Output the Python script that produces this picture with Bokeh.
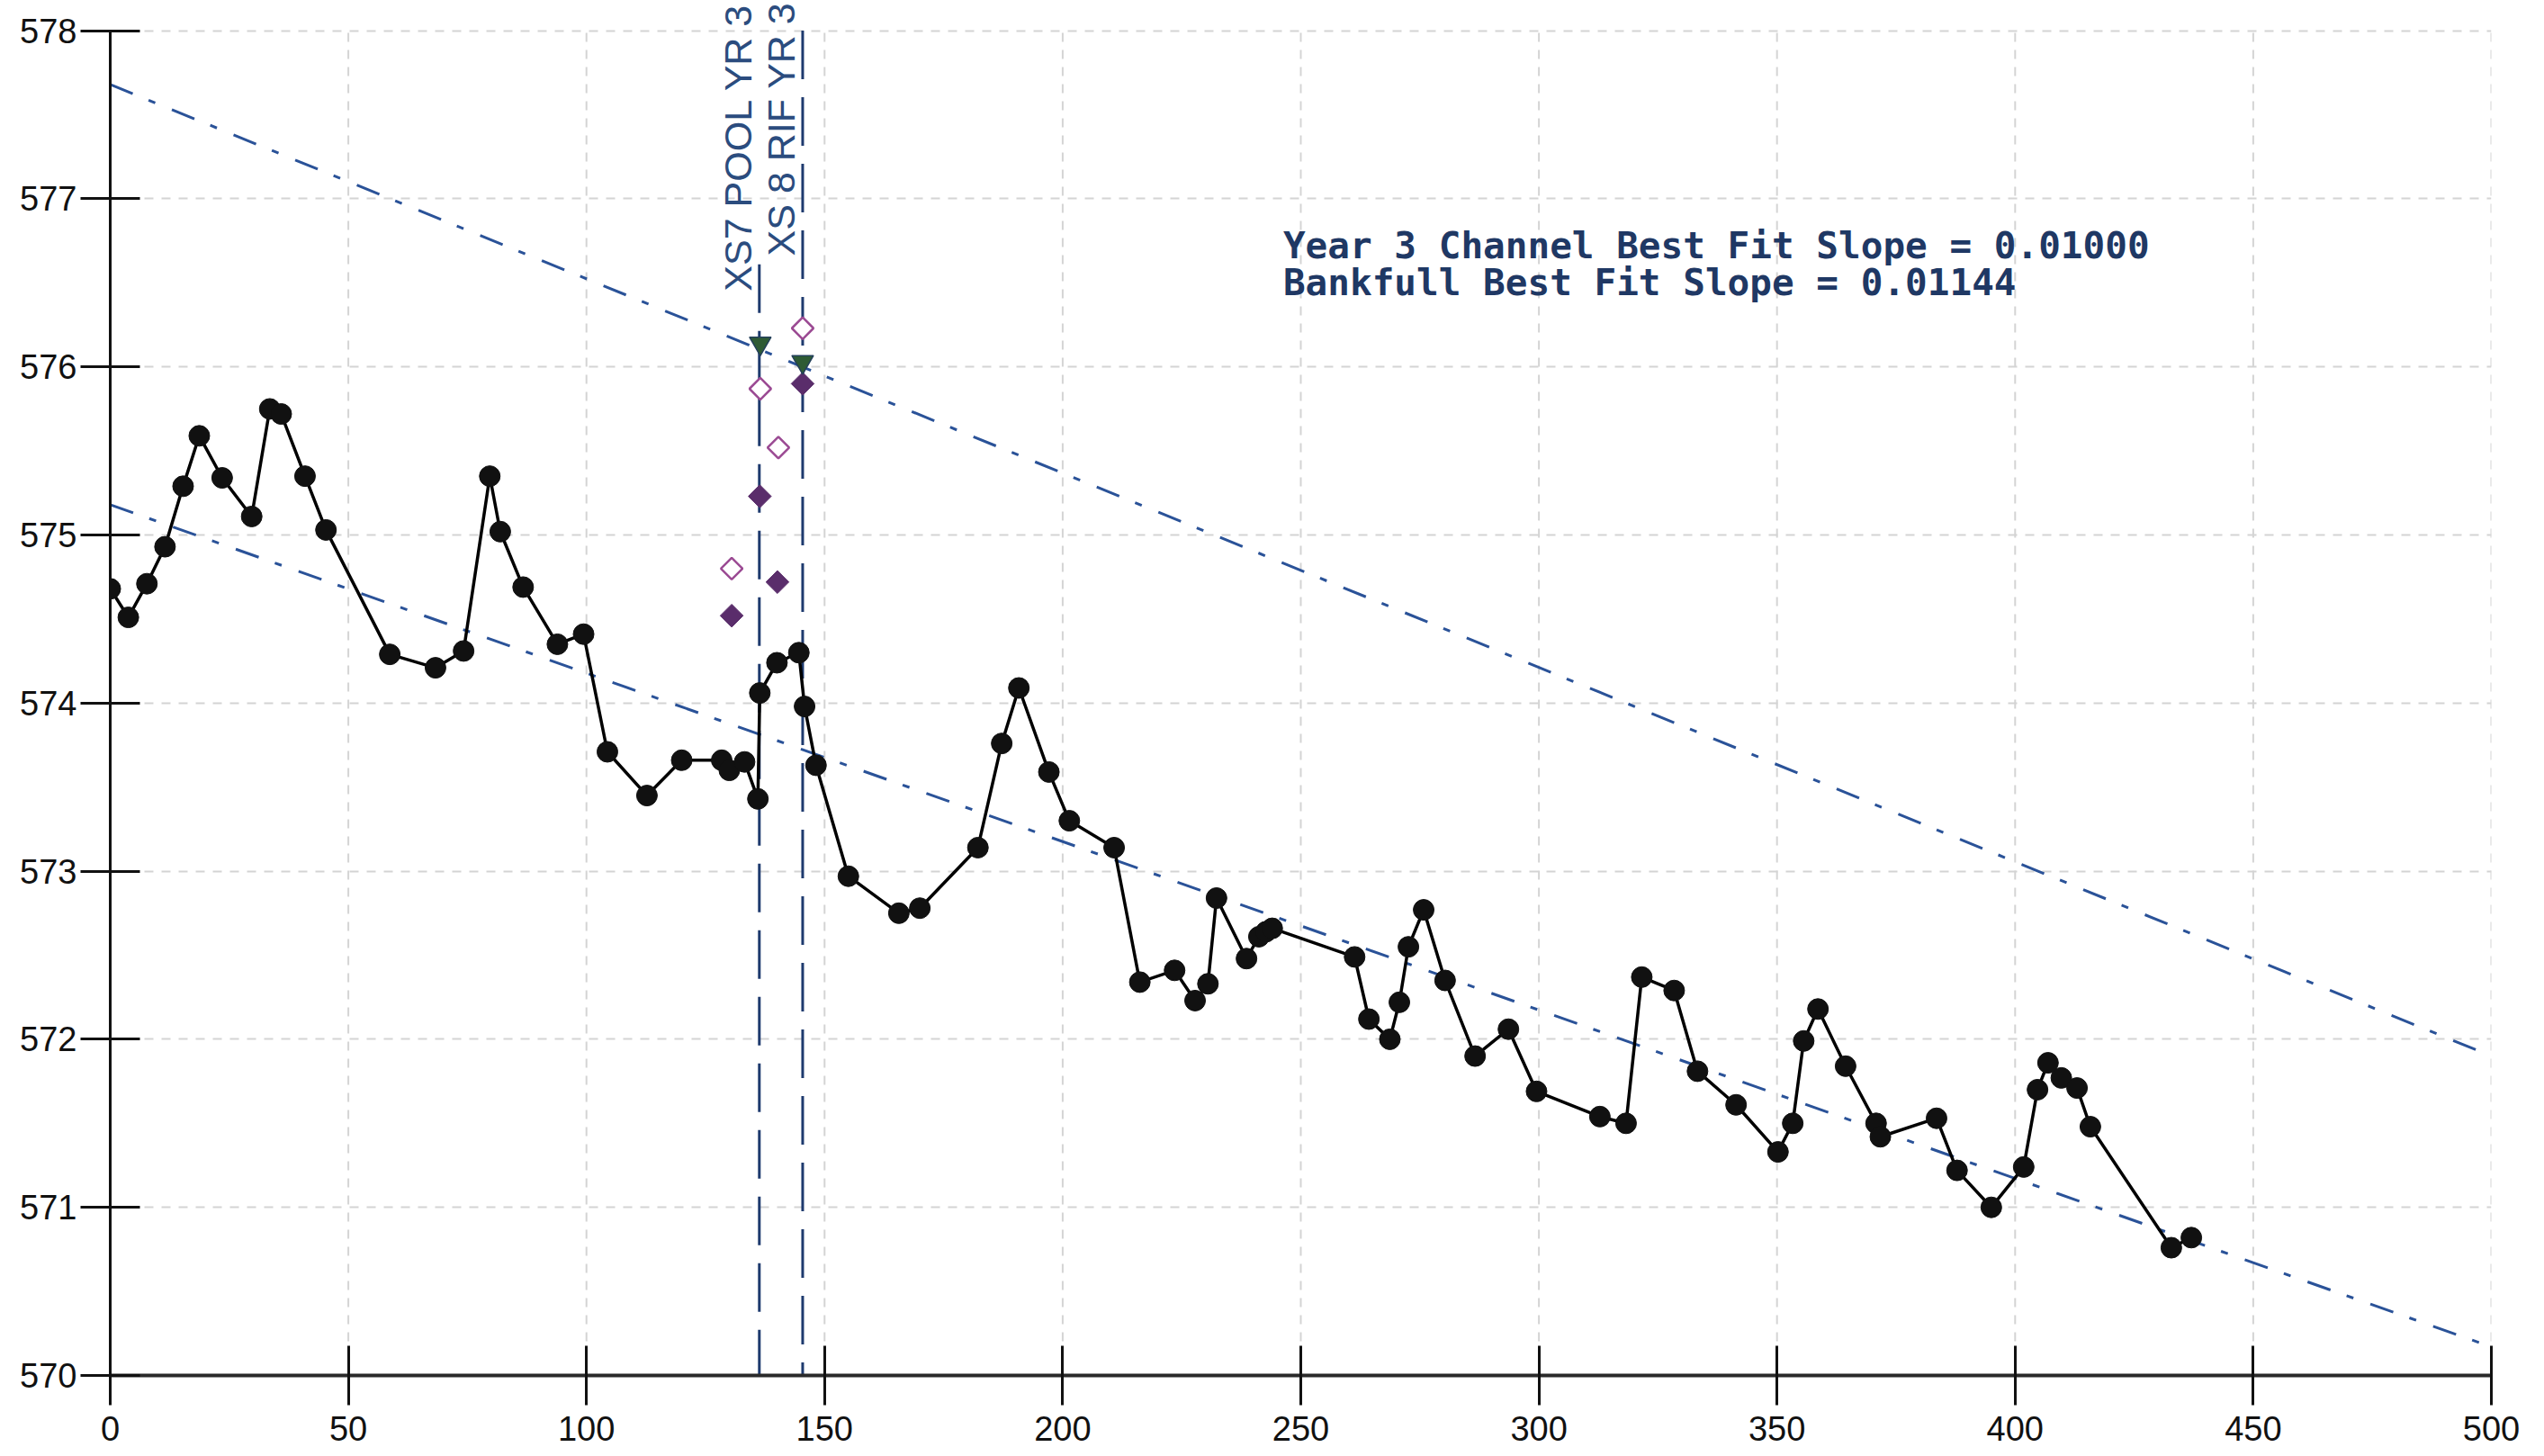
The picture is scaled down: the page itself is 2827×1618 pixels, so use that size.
from bokeh.plotting import figure
from bokeh.models import Range1d, FixedTicker, Label
from bokeh.embed import file_html
from bokeh.resources import INLINE
import math

# ---------------- data ----------------
station = [0, 3.8, 7.7, 11.5, 15.3, 18.7, 23.5, 29.7, 33.5, 35.9, 40.9, 45.3, 58.7, 68.3,
           74.2, 79.7, 81.9, 86.7, 93.9, 99.4, 104.4, 112.7, 120.0, 128.4, 130.0, 133.2,
           136.0, 136.4, 140.0, 144.6, 145.8, 148.2, 155.0, 165.6, 170.0, 182.2, 187.2,
           190.8, 197.1, 201.4, 210.8, 216.2, 223.5, 227.8, 230.5, 232.3, 238.6, 241.2,
           242.7, 244.0, 261.3, 264.3, 268.7, 270.7, 272.6, 275.8, 280.3, 286.6, 293.6,
           299.5, 312.8, 318.3, 321.6, 328.4, 333.3, 341.4, 350.2, 353.3, 355.6, 358.6,
           364.4, 370.8, 371.7, 383.5, 387.8, 395.0, 401.8, 404.7, 406.9, 409.7, 413.0,
           415.8, 432.8, 437.0]
elevation = [574.68, 574.51, 574.71, 574.93, 575.29, 575.59, 575.34, 575.11, 575.75, 575.72,
             575.35, 575.03, 574.29, 574.21, 574.31, 575.35, 575.02, 574.69, 574.35, 574.41,
             573.71, 573.45, 573.66, 573.66, 573.60, 573.65, 573.43, 574.06, 574.24, 574.30,
             573.98, 573.63, 572.97, 572.75, 572.78, 573.14, 573.76, 574.09, 573.59, 573.30,
             573.14, 572.34, 572.41, 572.23, 572.33, 572.84, 572.48, 572.61, 572.64, 572.66,
             572.49, 572.12, 572.00, 572.22, 572.55, 572.77, 572.35, 571.90, 572.06, 571.69,
             571.54, 571.50, 572.37, 572.29, 571.81, 571.61, 571.33, 571.50, 571.99, 572.18,
             571.84, 571.50, 571.42, 571.53, 571.22, 571.00, 571.24, 571.70, 571.86, 571.77,
             571.71, 571.48, 570.76, 570.82]

bankfull_fit_x = [0, 500]
bankfull_fit_y = [577.68, 571.90]
channel_fit_x = [0, 500]
channel_fit_y = [575.18, 570.17]

xs_names = ["XS7 POOL YR 3", "XS 8 RIF YR 3"]
xs_station = [136.3, 145.4]
xs_line_top = [576.61, 578.0]
xs_label_start = [576.45, 576.66]

filled_diamond_x = [130.5, 136.4, 140.1, 145.4]
filled_diamond_y = [574.52, 575.23, 574.72, 575.90]
open_diamond_x = [130.5, 136.5, 140.3, 145.4]
open_diamond_y = [574.80, 575.87, 575.52, 576.23]
triangle_x = [136.5, 145.4]
triangle_y = [576.14, 576.03]

slope_notes = ["Year 3 Channel Best Fit Slope = 0.01000",
               "Bankfull Best Fit Slope = 0.01144"]
slope_note_y = [576.72, 576.50]

x_ticks = list(range(0, 501, 50))
y_ticks = list(range(570, 579))

# ---------------- figure ----------------
Y_LO, Y_HI = 570, 578
p = figure(width=2810, height=1617, output_backend="svg", toolbar_location=None,
           x_range=Range1d(0, 500), y_range=Range1d(Y_LO, 578.18),
           min_border_left=122, min_border_right=42, min_border_top=0, min_border_bottom=89)
p.outline_line_color = None
p.background_fill_color = "white"

TICK_FONT = "'Liberation Sans', Arial, sans-serif"

for ax in (p.xaxis[0], p.yaxis[0]):
    ax.major_label_text_font = TICK_FONT
    ax.major_label_text_font_size = "38px"
    ax.major_label_text_color = "#111111"
    ax.major_tick_in = 33
    ax.major_tick_out = 33
    ax.major_tick_line_color = "#111111"
    ax.major_tick_line_width = 3
    ax.minor_tick_line_color = None
p.xaxis.ticker = FixedTicker(ticks=x_ticks)
p.yaxis.ticker = FixedTicker(ticks=y_ticks)
p.yaxis.bounds = (Y_LO, Y_HI)
p.xaxis.axis_line_color = "#2a2a2a"
p.xaxis.axis_line_width = 4
p.yaxis.axis_line_color = "#111111"
p.yaxis.axis_line_width = 3
p.xaxis.major_label_standoff = 12
p.yaxis.major_label_standoff = 4

GRID_COLOR = "#d4d4d4"
GRID_DASH = "10 9"
p.ygrid.grid_line_color = GRID_COLOR
p.ygrid.grid_line_dash = GRID_DASH
p.ygrid.grid_line_width = 2
p.xgrid.grid_line_color = None
# vertical grid lines limited to the axis span
p.segment(x0=x_ticks, y0=[Y_LO] * len(x_ticks), x1=x_ticks, y1=[Y_HI] * len(x_ticks),
          line_color=GRID_COLOR, line_dash=GRID_DASH, line_width=2)

# best-fit lines
p.line(bankfull_fit_x, bankfull_fit_y, line_color="#2a5298", line_width=3,
       line_dash="27 19 8 20")
p.line(channel_fit_x, channel_fit_y, line_color="#2a5298", line_width=3,
       line_dash="27 19 8 20")

# cross-section vertical lines
p.segment(x0=xs_station, y0=xs_line_top, x1=xs_station, y1=[Y_LO] * len(xs_station),
          line_color="#1e3a6e", line_width=3, line_dash="54 20")

# profile
p.line(station, elevation, line_color="black", line_width=3.5)
p.scatter(station, elevation, marker="circle", size=23, fill_color="#111111",
          line_color="#111111")

# cross-section markers
p.scatter(open_diamond_x, open_diamond_y, marker="square", angle=math.pi / 4, size=17,
          fill_color="white", line_color="#9b4a93", line_width=2.5)
p.scatter(filled_diamond_x, filled_diamond_y, marker="square", angle=math.pi / 4, size=18,
          fill_color="#5a2d6b", line_color="#5a2d6b")
p.scatter(triangle_x, triangle_y, marker="inverted_triangle", size=24,
          fill_color="#2e5b34", line_color="#24405a", line_width=1.5)

# labels
for name, xs, ys in zip(xs_names, xs_station, xs_label_start):
    p.add_layout(Label(x=xs - 4.5, y=ys, text=name, angle=90, angle_units="deg",
                       text_align="left", text_baseline="alphabetic",
                       text_font=TICK_FONT, text_font_size="43px",
                       text_color="#2b4c7e"))

for note, ny in zip(slope_notes, slope_note_y):
    p.add_layout(Label(x=246.3, y=ny, text=note, text_align="left",
                       text_baseline="alphabetic",
                       text_font="'DejaVu Sans Mono', monospace", text_font_size="41px",
                       text_font_style="bold", text_color="#1f3864"))

open("out.html", "w").write(file_html(p, INLINE))
